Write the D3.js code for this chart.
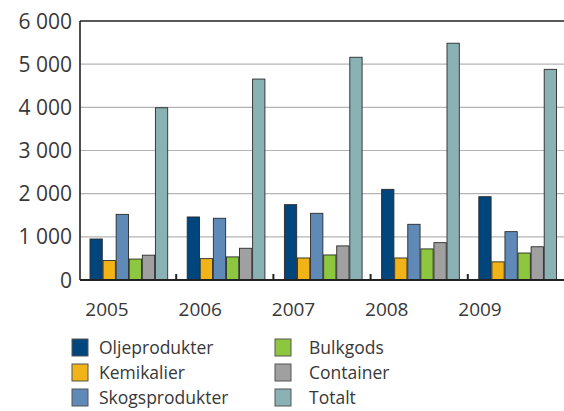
<!DOCTYPE html>
<html>
<head>
<meta charset="utf-8">
<script src="https://cdn.jsdelivr.net/npm/d3@7"></script>
<style>
  body { margin: 0; background: #fff; }
  text { font-family: "Open Sans", "Liberation Sans", sans-serif; fill: #383838; }
</style>
</head>
<body>
<svg width="564" height="411"></svg>
<script>
var years = ["2005", "2006", "2007", "2008", "2009"];
var series = ["Oljeprodukter", "Kemikalier", "Skogsprodukter", "Bulkgods", "Container", "Totalt"];
var colors = ["#00457c", "#f0b418", "#5f8ab8", "#8dc63f", "#a0a0a0", "#8ab2b5"];
var oljeprodukter = [950, 1460, 1745, 2100, 1930];
var kemikalier = [450, 495, 510, 510, 420];
var skogsprodukter = [1520, 1430, 1545, 1290, 1120];
var bulkgods = [485, 535, 580, 720, 625];
var container = [575, 735, 790, 865, 770];
var totalt = [3990, 4655, 5160, 5485, 4880];
var yTicks = [0, 1000, 2000, 3000, 4000, 5000, 6000];

var values = [oljeprodukter, kemikalier, skogsprodukter, bulkgods, container, totalt];
var data = years.map(function(yr, i) {
  return { year: yr, vals: series.map(function(s, j) { return { key: s, value: values[j][i], c: colors[j] }; }) };
});

var svg = d3.select("svg"),
    mLeft = 80, mRight = 566, mTop = 21, mBottom = 280;

var x0 = d3.scaleBand().domain(years).range([mLeft, mRight]).paddingInner(0).paddingOuter(0);
var x1 = d3.scaleBand().domain(series).range([10, x0.bandwidth() - 9.5]).paddingInner(0.06);
// year labels in the original sit on their own, slightly tighter spacing
var xLabel = d3.scalePoint().domain(years).range([107, 480]);
var y = d3.scaleLinear().domain([0, 6000]).range([mBottom, mTop]);

var fmt = function(d) { return d3.format(",")(d).replace(/,/g, " "); };

// gridlines
svg.append("g").selectAll("line")
  .data(yTicks.filter(function(d) { return d > 0 && d < 6000; }))
  .enter().append("line")
    .attr("x1", mLeft).attr("x2", 564)
    .attr("y1", function(d) { return y(d); }).attr("y2", function(d) { return y(d); })
    .attr("stroke", "#b4b4b4").attr("stroke-width", 1.2);

// y labels
svg.append("g").selectAll("text")
  .data(yTicks)
  .enter().append("text")
    .attr("x", 72).attr("y", function(d) { return y(d); })
    .attr("dy", "0.36em")
    .attr("text-anchor", "end")
    .style("font-size", "21px")
    .text(fmt);

// bars
var groups = svg.append("g").selectAll("g")
  .data(data)
  .enter().append("g")
    .attr("transform", function(d) { return "translate(" + x0(d.year) + ",0)"; });

groups.selectAll("rect")
  .data(function(d) { return d.vals; })
  .enter().append("rect")
    .attr("x", function(d) { return x1(d.key); })
    .attr("y", function(d) { return y(d.value); })
    .attr("width", x1.bandwidth())
    .attr("height", function(d) { return mBottom - y(d.value); })
    .attr("fill", function(d) { return d.c; })
    .attr("stroke", "#2a2a2a").attr("stroke-width", 0.9);

// frame
svg.append("line").attr("x1", mLeft).attr("x2", 564).attr("y1", mTop).attr("y2", mTop)
  .attr("stroke", "#222").attr("stroke-width", 1.6);
svg.append("line").attr("x1", mLeft).attr("x2", mLeft).attr("y1", mTop).attr("y2", mBottom)
  .attr("stroke", "#222").attr("stroke-width", 1.6);
svg.append("line").attr("x1", mLeft).attr("x2", 564).attr("y1", mBottom).attr("y2", mBottom)
  .attr("stroke", "#222").attr("stroke-width", 2);

// group separator ticks
svg.append("g").selectAll("line")
  .data(years.slice(1))
  .enter().append("line")
    .attr("x1", function(d) { return x0(d) - 1; }).attr("x2", function(d) { return x0(d) - 1; })
    .attr("y1", mBottom).attr("y2", mBottom - 6)
    .attr("stroke", "#222").attr("stroke-width", 2);

// year labels
svg.append("g").selectAll("text")
  .data(years)
  .enter().append("text")
    .attr("x", function(d) { return xLabel(d); })
    .attr("y", 316)
    .attr("text-anchor", "middle")
    .style("font-size", "19px")
    .text(function(d) { return d; });

// legend
var legend = svg.append("g").selectAll("g")
  .data(series)
  .enter().append("g")
    .attr("transform", function(d, i) {
      return "translate(" + (i < 3 ? 72 : 275) + "," + (339 + (i % 3) * 25) + ")";
    });

legend.append("rect")
  .attr("width", 16).attr("height", 17)
  .attr("fill", function(d, i) { return colors[i]; })
  .attr("stroke", "#555").attr("stroke-width", 1);

legend.append("text")
  .attr("x", function(d, i) { return i < 3 ? 27 : 34; })
  .attr("y", 9)
  .attr("dy", "0.36em")
  .style("font-size", "17.5px")
  .text(function(d) { return d; });
</script>
</body>
</html>
